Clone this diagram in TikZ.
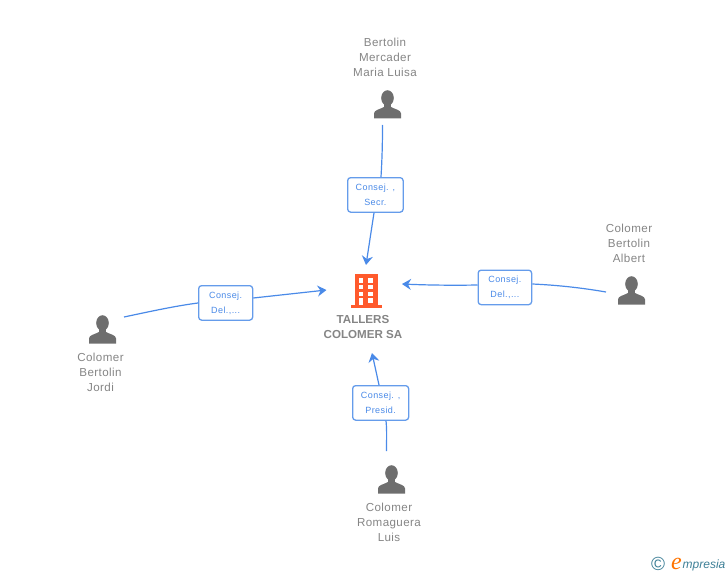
\documentclass[tikz,border=0pt]{standalone}
\usepackage{fontspec}
\setmainfont{Liberation Sans}
\newfontfamily\lblfont[LetterSpace=3.5]{Liberation Sans}
\newfontfamily\relfont[LetterSpace=4.5]{Liberation Sans}
\newfontfamily\logofont{Liberation Serif}
\usetikzlibrary{arrows.meta}
\definecolor{lnk}{HTML}{4A8AE8}
\definecolor{txtc}{HTML}{858585}
\definecolor{icon}{HTML}{6E6E6E}
\definecolor{bld}{HTML}{FF5A2C}
\definecolor{teal2}{HTML}{3D7F96}
\tikzset{
  x=1pt,y=-1pt,
  lab/.style={text=txtc,font=\lblfont\fontsize{11.6}{15}\selectfont,align=center,inner sep=0pt},
  rel/.style={draw=lnk!85,line width=1.3pt,rounded corners=3pt,fill=white,text=lnk,
    font=\relfont\fontsize{9}{15}\selectfont,align=center,inner sep=0pt,anchor=north west},
  conn/.style={draw=lnk,line width=1.2pt},
  arr/.style={conn,-{Stealth[length=9pt,width=11pt,inset=3pt]}},
  person/.pic={
    \fill[icon] (0,-7) ellipse (6.3 and 7.8);
    \fill[icon] (-3.5,-2) rectangle (3.5,4);
    \fill[icon] (-13.5,13.5) -- (-13.5,8.5) .. controls (-13.5,5) and (-8,4.5) .. (-3.5,2)
      -- (3.5,2) .. controls (8,4.5) and (13.5,5) .. (13.5,8.5) -- (13.5,13.5) -- cycle;
  }
}
\begin{document}
\begin{tikzpicture}
\useasboundingbox (0,0) rectangle (728,575);
% building
\fill[bld] (355,274) rectangle (377.5,305);
\fill[bld] (351,305) rectangle (382,307.6);
\foreach \yy in {278.3,285,291.7}{
  \fill[white] (358.7,\yy) rectangle +(4.6,4.4);
  \fill[white] (368.3,\yy) rectangle +(5,4.4);
}
\fill[white] (358.7,298) rectangle (363.3,305);
\fill[white] (368.3,298) rectangle (373.3,302.7);
\node[lab,font=\fontsize{11.6}{15}\selectfont\bfseries] (company) at (363,327) {TALLERS\\COLOMER SA};
% persons
\pic at (387.5,105) {person};
\pic at (631.5,291) {person};
\pic at (102.5,330) {person};
\pic at (391.5,480) {person};
\node[lab] (p1) at (385,57) {Bertolin\\Mercader\\Maria Luisa};
\node[lab] (p2) at (629,243) {Colomer\\Bertolin\\Albert};
\node[lab] (p3) at (100.5,372) {Colomer\\Bertolin\\Jordi};
\node[lab] (p4) at (389,522) {Colomer\\Romaguera\\Luis};
% relation boxes
\node[rel,minimum width=55.5pt,minimum height=34.5pt] (r1) at (347,177) {Consej. ,\\Secr.};
\node[rel,minimum width=53.5pt,minimum height=34.5pt] (r2) at (477.5,269.5) {Consej.\\Del.,...};
\node[rel,minimum width=54pt,minimum height=34.5pt] (r3) at (198,285) {Consej.\\Del.,...};
\node[rel,minimum width=56pt,minimum height=34.5pt] (r4) at (352,385) {Consej. ,\\Presid.};
% free ends
\coordinate (s1) at (382.5,125);
\coordinate (s2) at (606,292);
\coordinate (s3) at (124,317);
\coordinate (s4) at (386.5,451);
\coordinate (e1) at (366,265);
\coordinate (e2) at (402,284);
\coordinate (e3) at (326.5,290);
\coordinate (e4) at (372,353);
% connectors
\draw[conn] (s1) .. controls (382.5,145) and (382,160) .. (r1.north -| 381,0);
\draw[arr] (r1.south -| 374,0) -- (e1);
\draw[conn] (s2) .. controls (580,287.5) and (555,285) .. (r2.east |- 0,284);
\draw[arr] (r2.west |- 0,285) .. controls (450,285.5) and (425,285) .. (e2);
\draw[conn] (s3) .. controls (150,311.5) and (175,306) .. (r3.west |- 0,303);
\draw[arr] (r3.east |- 0,298) -- (e3);
\draw[conn] (s4) .. controls (386.5,440) and (387,430) .. (r4.south -| 386,0);
\draw[arr] (r4.north -| 379,0) -- (e4);
% logo
\node[text=teal2,font=\fontsize{19}{19}\selectfont,inner sep=0pt] (copy) at (658,564) {©};
\node[text=orange!90!red,font=\logofont\fontsize{24}{24}\selectfont\itshape,inner sep=0pt,anchor=base west] (le) at (671,569) {e};
\node[text=teal2,font=\fontsize{12}{12}\selectfont\itshape,inner sep=0pt,anchor=base west] (lr) at (682.5,568) {mpresia};
\end{tikzpicture}
\end{document}
